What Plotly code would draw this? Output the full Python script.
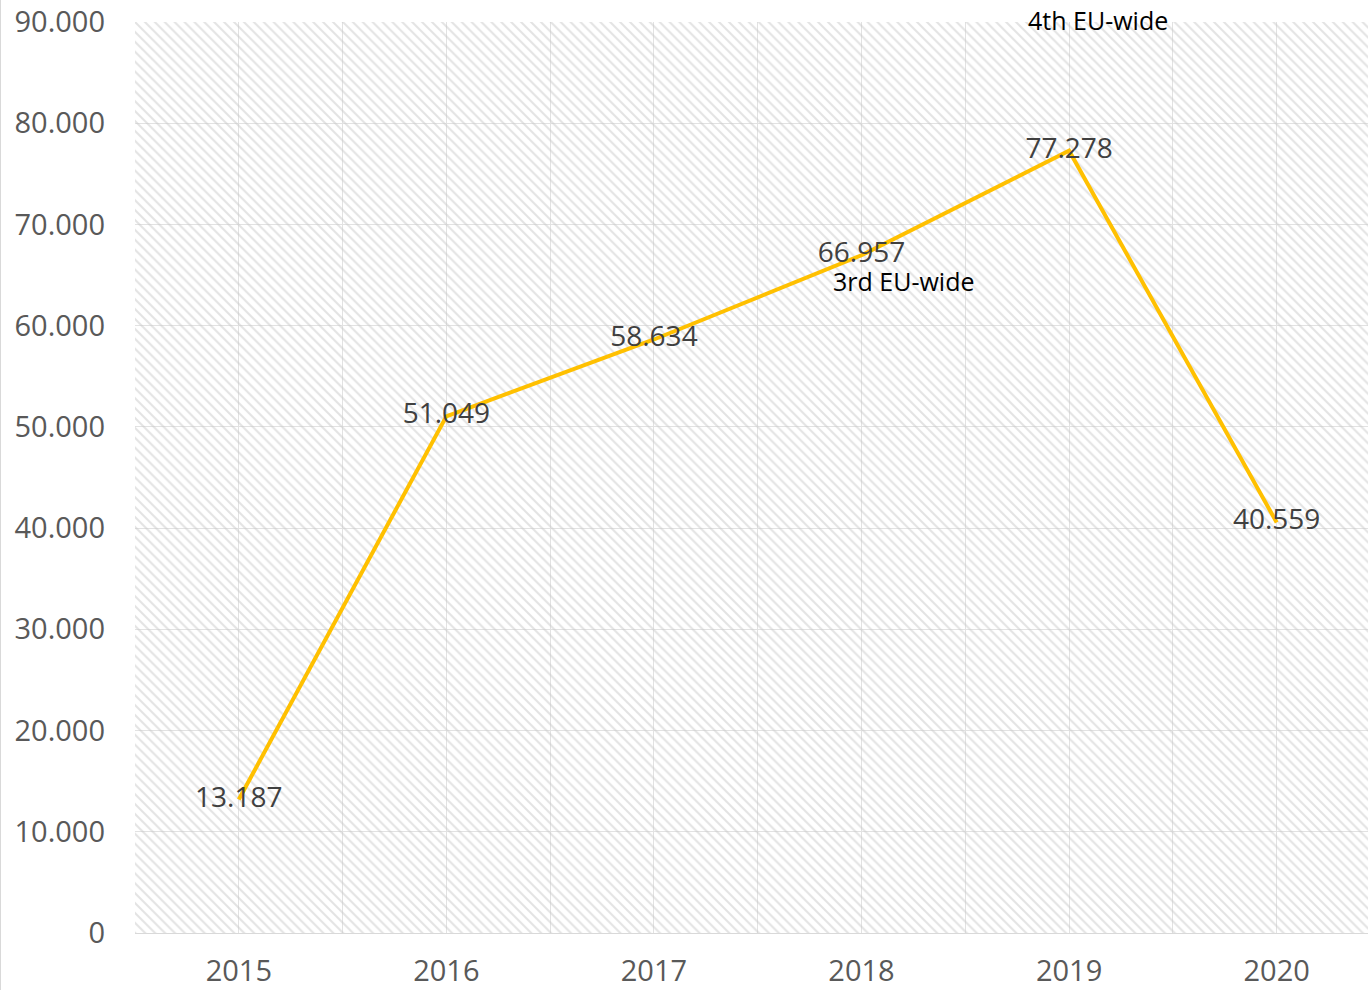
import plotly.graph_objects as go

# Yearly totals
years = [2015, 2016, 2017, 2018, 2019, 2020]
values = [13187, 51049, 58634, 66957, 77278, 40559]

y_ticks = [0, 10000, 20000, 30000, 40000, 50000, 60000, 70000, 80000, 90000]

# Campaign markers
notes = ["4th EU-wide", "3rd EU-wide"]
note_x = [2019.14, 2018.2]

X_RANGE = [2014.5, 2020.44]
Y_RANGE = [0, 90000]

LINE_COLOR = "#FFC000"
GRID = "#e2e2e2"
TICK_FONT = dict(family="Open Sans", size=29, color="#595959")
NOTE_FONT = dict(family="Open Sans", size=25, color="#000000")

fig = go.Figure()

# hatched plot-area background
fig.add_trace(go.Scatter(
    x=[X_RANGE[0], X_RANGE[1], X_RANGE[1], X_RANGE[0], X_RANGE[0]],
    y=[Y_RANGE[0], Y_RANGE[0], Y_RANGE[1], Y_RANGE[1], Y_RANGE[0]],
    mode="lines", line=dict(width=0), fill="toself",
    fillcolor="rgba(0,0,0,0)",
    fillpattern=dict(shape="\\", fgcolor="#c8c8c8", bgcolor="rgba(0,0,0,0)",
                     size=7, solidity=0.3),
    hoverinfo="skip", showlegend=False,
))

fig.add_trace(go.Scatter(
    x=years, y=values,
    mode="lines+text",
    line=dict(color=LINE_COLOR, width=4),
    texttemplate="%{y:,d}",
    textposition="middle center",
    textfont=dict(family="Open Sans", size=28, color="#404040"),
    showlegend=False,
))

# the 4th campaign label sits on the top edge of the plot area
fig.add_annotation(x=note_x[0], y=1 + 2 / 911, xref="x", yref="paper",
                   text=notes[0], showarrow=False, font=NOTE_FONT,
                   xanchor="center", yanchor="middle")
fig.add_annotation(x=note_x[1], y=1 - 281 / 911 + 22 / 911, xref="x", yref="paper",
                   text=notes[1], showarrow=False, font=NOTE_FONT,
                   xanchor="center", yanchor="middle")

# thin frame on the left edge of the chart
fig.add_shape(type="line", xref="paper", yref="paper",
              x0=-134.5 / 1233, x1=-134.5 / 1233, y0=-57 / 911, y1=1 + 22 / 911,
              line=dict(color="#d9d9d9", width=1))

fig.update_layout(
    width=1368, height=990,
    margin=dict(l=135, r=0, t=22, b=57),
    paper_bgcolor="white", plot_bgcolor="white",
    separators=",.",
    xaxis=dict(
        range=X_RANGE, tickmode="array", tickvals=years,
        ticktext=[str(y) for y in years],
        showgrid=True, gridcolor=GRID, gridwidth=1,
        minor=dict(tickmode="linear", tick0=2014.5, dtick=1,
                   showgrid=True, gridcolor=GRID, gridwidth=1),
        showline=True, linecolor="#d9d9d9", linewidth=1,
        ticks="", zeroline=False, tickfont=TICK_FONT,
        ticklabelstandoff=12,
    ),
    yaxis=dict(
        range=Y_RANGE, tickmode="array", tickvals=y_ticks,
        tickformat=",d",
        showgrid=True, gridcolor=GRID, gridwidth=1,
        zeroline=False, showline=False, ticks="",
        tickfont=TICK_FONT, ticklabelstandoff=29,
    ),
)

fig.write_html("out.html")
